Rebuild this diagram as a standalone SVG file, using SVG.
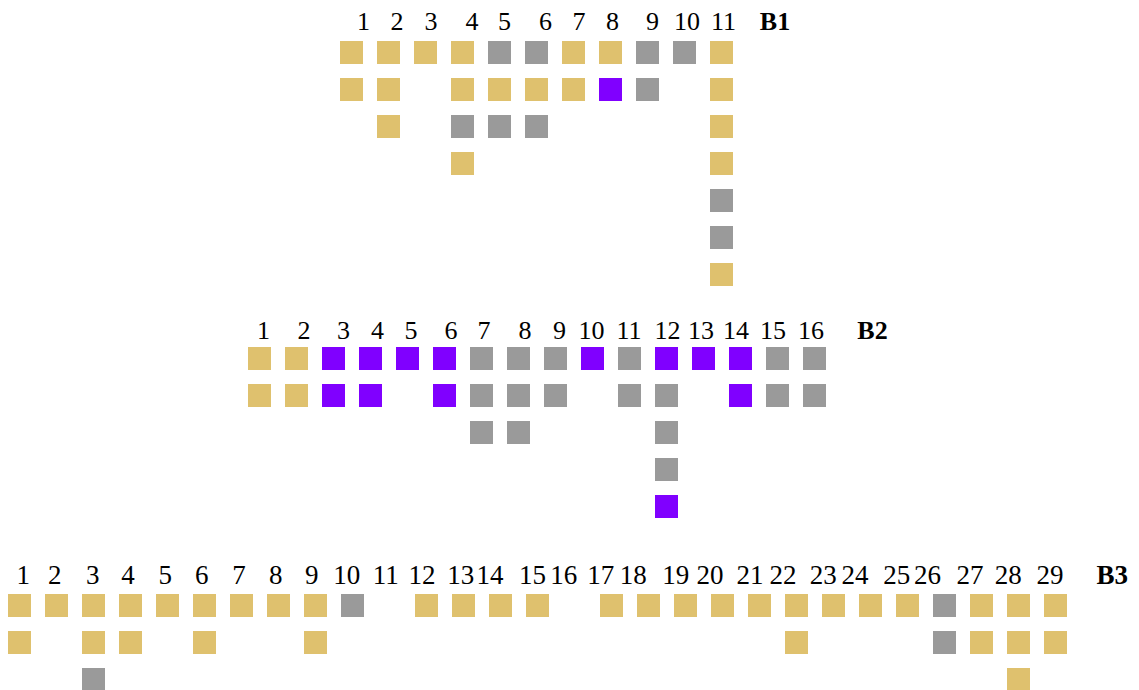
<svg xmlns="http://www.w3.org/2000/svg" width="1139" height="690" viewBox="0 0 1139 690">
<style>
  .y{fill:#DFC16E}
  .g{fill:#9A9A9A}
  .p{fill:#8000FF}
  text{font-family:"Liberation Serif","Times New Roman",serif;font-size:26px;fill:#000;text-anchor:middle}
  .b{font-weight:bold}
  #B3 text{font-size:27px}
</style>
<rect width="1139" height="690" fill="#fff"/>
<defs><rect id="c" width="23" height="23"/></defs>

<g id="B1">
  <g id="B1-labels">
    <text x="363.5" y="29.5">1</text><text x="397" y="29.5">2</text><text x="431" y="29.5">3</text>
    <text x="472" y="29.5">4</text><text x="504.5" y="29.5">5</text><text x="545.5" y="29.5">6</text>
    <text x="579" y="29.5">7</text><text x="612.5" y="29.5">8</text><text x="652.5" y="29.5">9</text>
    <text x="687" y="29.5">10</text><text x="723.5" y="29.5">11</text>
    <text class="b" x="775" y="29.5">B1</text>
  </g>
  <g id="B1-cells">
    <use href="#c" class="y" x="340" y="41"/><use href="#c" class="y" x="340" y="78"/>
    <use href="#c" class="y" x="377" y="41"/><use href="#c" class="y" x="377" y="78"/><use href="#c" class="y" x="377" y="115"/>
    <use href="#c" class="y" x="414" y="41"/>
    <use href="#c" class="y" x="451" y="41"/><use href="#c" class="y" x="451" y="78"/><use href="#c" class="g" x="451" y="115"/><use href="#c" class="y" x="451" y="152"/>
    <use href="#c" class="g" x="488" y="41"/><use href="#c" class="y" x="488" y="78"/><use href="#c" class="g" x="488" y="115"/>
    <use href="#c" class="g" x="525" y="41"/><use href="#c" class="y" x="525" y="78"/><use href="#c" class="g" x="525" y="115"/>
    <use href="#c" class="y" x="562" y="41"/><use href="#c" class="y" x="562" y="78"/>
    <use href="#c" class="y" x="599" y="41"/><use href="#c" class="p" x="599" y="78"/>
    <use href="#c" class="g" x="636" y="41"/><use href="#c" class="g" x="636" y="78"/>
    <use href="#c" class="g" x="673" y="41"/>
    <use href="#c" class="y" x="710" y="41"/><use href="#c" class="y" x="710" y="78"/><use href="#c" class="y" x="710" y="115"/><use href="#c" class="y" x="710" y="152"/>
    <use href="#c" class="g" x="710" y="189"/><use href="#c" class="g" x="710" y="226"/><use href="#c" class="y" x="710" y="263"/>
  </g>
</g>

<g id="B2">
  <g id="B2-labels">
    <text x="263.5" y="338.5">1</text><text x="304" y="338.5">2</text><text x="343.5" y="338.5">3</text>
    <text x="377.5" y="338.5">4</text><text x="411" y="338.5">5</text><text x="451" y="338.5">6</text>
    <text x="484" y="338.5">7</text><text x="525" y="338.5">8</text><text x="559.5" y="338.5">9</text>
    <text x="591.5" y="338.5">10</text><text x="629" y="338.5">11</text><text x="667.5" y="338.5">12</text>
    <text x="701" y="338.5">13</text><text x="736" y="338.5">14</text><text x="773" y="338.5">15</text>
    <text x="811" y="338.5">16</text>
    <text class="b" x="872.5" y="338.5">B2</text>
  </g>
  <g id="B2-cells">
    <use href="#c" class="y" x="248" y="347"/><use href="#c" class="y" x="248" y="384"/>
    <use href="#c" class="y" x="285" y="347"/><use href="#c" class="y" x="285" y="384"/>
    <use href="#c" class="p" x="322" y="347"/><use href="#c" class="p" x="322" y="384"/>
    <use href="#c" class="p" x="359" y="347"/><use href="#c" class="p" x="359" y="384"/>
    <use href="#c" class="p" x="396" y="347"/>
    <use href="#c" class="p" x="433" y="347"/><use href="#c" class="p" x="433" y="384"/>
    <use href="#c" class="g" x="470" y="347"/><use href="#c" class="g" x="470" y="384"/><use href="#c" class="g" x="470" y="421"/>
    <use href="#c" class="g" x="507" y="347"/><use href="#c" class="g" x="507" y="384"/><use href="#c" class="g" x="507" y="421"/>
    <use href="#c" class="g" x="544" y="347"/><use href="#c" class="g" x="544" y="384"/>
    <use href="#c" class="p" x="581" y="347"/>
    <use href="#c" class="g" x="618" y="347"/><use href="#c" class="g" x="618" y="384"/>
    <use href="#c" class="p" x="655" y="347"/><use href="#c" class="g" x="655" y="384"/><use href="#c" class="g" x="655" y="421"/><use href="#c" class="g" x="655" y="458"/><use href="#c" class="p" x="655" y="495"/>
    <use href="#c" class="p" x="692" y="347"/>
    <use href="#c" class="p" x="729" y="347"/><use href="#c" class="p" x="729" y="384"/>
    <use href="#c" class="g" x="766" y="347"/><use href="#c" class="g" x="766" y="384"/>
    <use href="#c" class="g" x="803" y="347"/><use href="#c" class="g" x="803" y="384"/>
  </g>
</g>

<g id="B3">
  <g id="B3-labels">
    <text x="23.3" y="583.5">1</text><text x="54.7" y="583.5">2</text><text x="92.8" y="583.5">3</text>
    <text x="128" y="583.5">4</text><text x="165.3" y="583.5">5</text><text x="201.7" y="583.5">6</text>
    <text x="239" y="583.5">7</text><text x="275.7" y="583.5">8</text><text x="311.7" y="583.5">9</text>
    <text x="346.7" y="583.5">10</text><text x="385.7" y="583.5">11</text><text x="422" y="583.5">12</text>
    <text x="460.7" y="583.5">13</text><text x="490" y="583.5">14</text><text x="532.5" y="583.5">15</text>
    <text x="563.7" y="583.5">16</text><text x="600.8" y="583.5">17</text><text x="633.3" y="583.5">18</text>
    <text x="675.7" y="583.5">19</text><text x="710" y="583.5">20</text><text x="750" y="583.5">21</text>
    <text x="783" y="583.5">22</text><text x="823.3" y="583.5">23</text><text x="855" y="583.5">24</text>
    <text x="896.7" y="583.5">25</text><text x="927.5" y="583.5">26</text><text x="970" y="583.5">27</text>
    <text x="1008.3" y="583.5">28</text><text x="1050" y="583.5">29</text>
    <text class="b" x="1112.3" y="583.5">B3</text>
  </g>
  <g id="B3-cells">
    <use href="#c" class="y" x="8" y="594"/><use href="#c" class="y" x="8" y="631"/>
    <use href="#c" class="y" x="45" y="594"/>
    <use href="#c" class="y" x="82" y="594"/><use href="#c" class="y" x="82" y="631"/><use href="#c" class="g" x="82" y="668"/>
    <use href="#c" class="y" x="119" y="594"/><use href="#c" class="y" x="119" y="631"/>
    <use href="#c" class="y" x="156" y="594"/>
    <use href="#c" class="y" x="193" y="594"/><use href="#c" class="y" x="193" y="631"/>
    <use href="#c" class="y" x="230" y="594"/>
    <use href="#c" class="y" x="267" y="594"/>
    <use href="#c" class="y" x="304" y="594"/><use href="#c" class="y" x="304" y="631"/>
    <use href="#c" class="g" x="341" y="594"/>
    <use href="#c" class="y" x="415" y="594"/>
    <use href="#c" class="y" x="452" y="594"/>
    <use href="#c" class="y" x="489" y="594"/>
    <use href="#c" class="y" x="526" y="594"/>
    <use href="#c" class="y" x="600" y="594"/>
    <use href="#c" class="y" x="637" y="594"/>
    <use href="#c" class="y" x="674" y="594"/>
    <use href="#c" class="y" x="711" y="594"/>
    <use href="#c" class="y" x="748" y="594"/>
    <use href="#c" class="y" x="785" y="594"/><use href="#c" class="y" x="785" y="631"/>
    <use href="#c" class="y" x="822" y="594"/>
    <use href="#c" class="y" x="859" y="594"/>
    <use href="#c" class="y" x="896" y="594"/>
    <use href="#c" class="g" x="933" y="594"/><use href="#c" class="g" x="933" y="631"/>
    <use href="#c" class="y" x="970" y="594"/><use href="#c" class="y" x="970" y="631"/>
    <use href="#c" class="y" x="1007" y="594"/><use href="#c" class="y" x="1007" y="631"/><use href="#c" class="y" x="1007" y="668"/>
    <use href="#c" class="y" x="1044" y="594"/><use href="#c" class="y" x="1044" y="631"/>
  </g>
</g>
</svg>
